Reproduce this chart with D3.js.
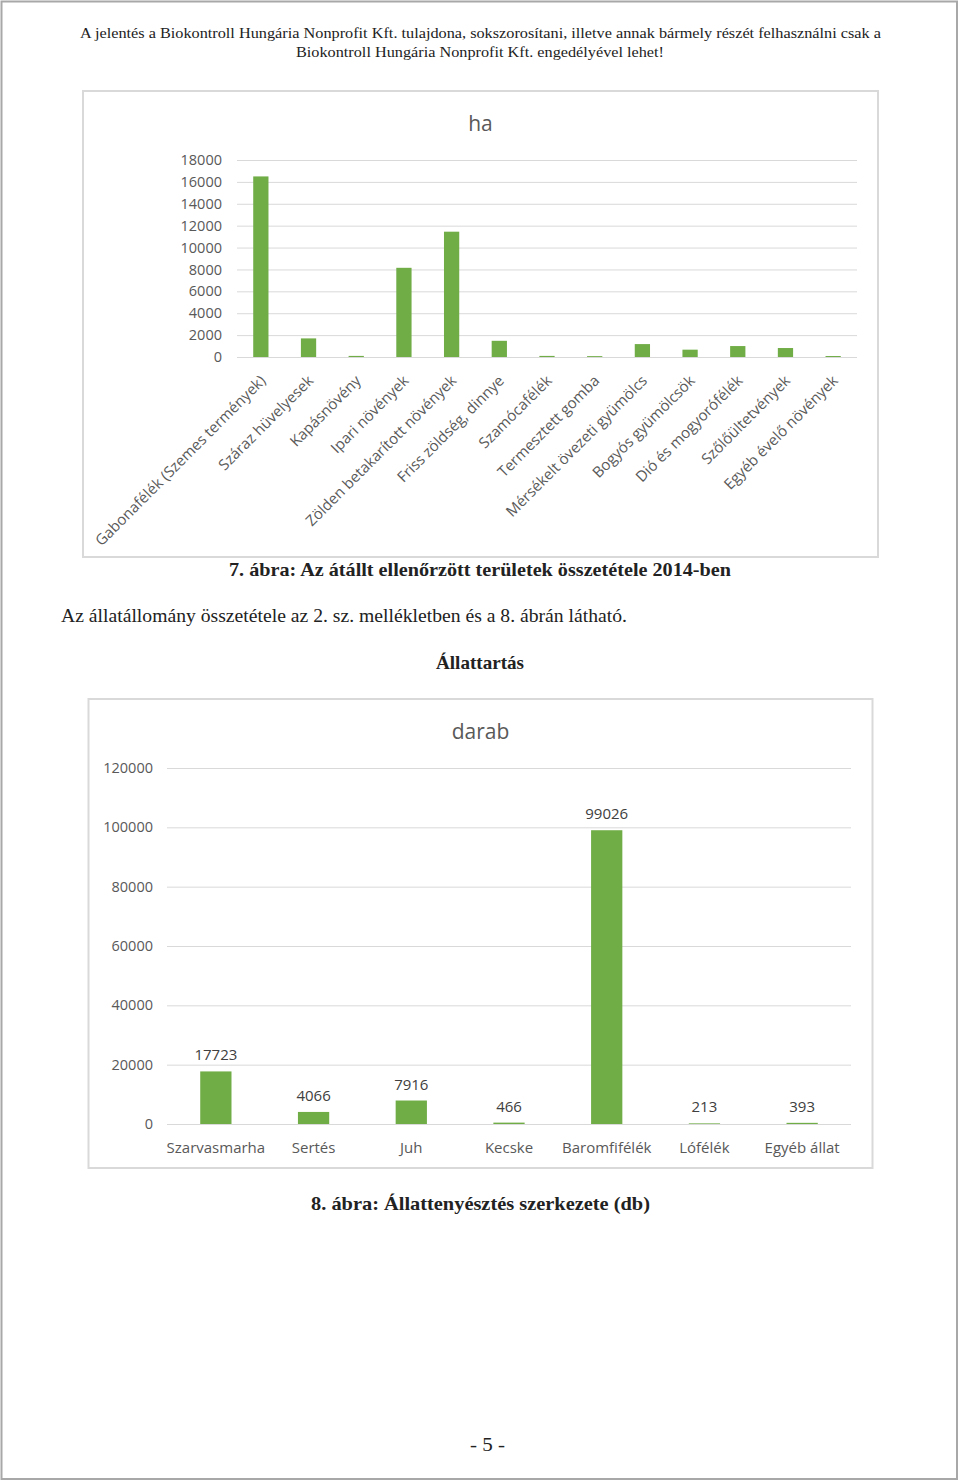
<!DOCTYPE html>
<html><head><meta charset="utf-8">
<script src="https://cdn.jsdelivr.net/npm/d3@7"></script>
<style>html,body{margin:0;padding:0;background:#fff;}svg{display:block;}</style>
</head><body>
<script>
// ---- Data ----
const cropCategories = ["Gabonafélék (Szemes termények)","Száraz hüvelyesek","Kapásnövény","Ipari növények","Zölden betakarított növények","Friss zöldség, dinnye","Szamócafélék","Termesztett gomba","Mérsékelt övezeti gyümölcs","Bogyós gyümölcsök","Dió és mogyorófélék","Szőlőültetvények","Egyéb évelő növények"];
const cropValues = [16500, 1700, 100, 8150, 11450, 1480, 100, 80, 1180, 670, 1000, 820, 90];
const cropTicks = [0,2000,4000,6000,8000,10000,12000,14000,16000,18000];

const animalCategories = ["Szarvasmarha","Sertés","Juh","Kecske","Baromfifélék","Lófélék","Egyéb állat"];
const animalValues = [17723, 4066, 7916, 466, 99026, 213, 393];
const animalTicks = [0,20000,40000,60000,80000,100000,120000];

const W = 960, H = 1483;
const svg = d3.select("body").append("svg").attr("width", W).attr("height", H);
const serif = "'Liberation Serif', 'DejaVu Serif', serif";
const sans = "'Open Sans', 'Noto Sans', sans-serif";
const green = "#70ad47", grid = "#d9d9d9", axisText = "#595959";

// page border
svg.append("rect").attr("x", 1.5).attr("y", 1.5).attr("width", 955.5).attr("height", 1477.5)
  .attr("fill", "#fff").attr("stroke", "#a8a8a8").attr("stroke-width", 2);

function serifText(txt, cx, y, len, size, weight, anchor) {
  const t = svg.append("text").attr("x", cx).attr("y", y).text(txt)
    .attr("font-family", serif).attr("font-size", size).attr("font-weight", weight || "normal")
    .attr("fill", "#222").attr("text-anchor", anchor || "middle");
  if (len) t.attr("textLength", len).attr("lengthAdjust", "spacingAndGlyphs");
  return t;
}
serifText("A jelentés a Biokontroll Hungária Nonprofit Kft. tulajdona, sokszorosítani, illetve annak bármely részét felhasználni csak a", 480.5, 38, 801, 15.5);
serifText("Biokontroll Hungária Nonprofit Kft. engedélyével lehet!", 480, 57, 368, 15.5);
serifText("7. ábra: Az átállt ellenőrzött területek összetétele 2014-ben", 480, 576, 502, 19, "bold");
serifText("Az állatállomány összetétele az 2. sz. mellékletben és a 8. ábrán látható.", 61, 622, 566, 19, "normal", "start");
serifText("Állattartás", 480, 669, 88, 19, "bold");
serifText("8. ábra: Állattenyésztés szerkezete (db)", 480.5, 1210, 339, 19, "bold");
serifText("- 5 -", 487.5, 1451, 35, 19);

// ---- Chart 1 ----
(function(){
  const frame = {x:83, y:91, w:795, h:466};
  svg.append("rect").attr("x", frame.x).attr("y", frame.y).attr("width", frame.w).attr("height", frame.h)
    .attr("fill", "#fff").attr("stroke", grid).attr("stroke-width", 2);
  const x = d3.scaleBand().domain(cropCategories).range([237, 857]).paddingInner(0.68).paddingOuter(0.34);
  const y = d3.scaleLinear().domain([0, 18000]).range([357, 160]);
  const g = svg.append("g");
  g.append("g").attr("transform", "translate(237,0)")
    .call(d3.axisLeft(y).tickValues(cropTicks).tickSize(-620).tickFormat(d3.format("d")))
    .call(a => a.select(".domain").remove())
    .call(a => a.selectAll("line").attr("stroke", grid).attr("stroke-width", 1))
    .call(a => a.selectAll("text").attr("x", -15).attr("fill", axisText)
      .attr("font-family", sans).attr("font-size", 14.5));
  g.selectAll("rect.bar").data(cropValues).join("rect").attr("class", "bar")
    .attr("x", (d,i) => x(cropCategories[i])).attr("width", x.bandwidth())
    .attr("y", d => y(d)).attr("height", d => y(0) - y(d)).attr("fill", green);
  g.append("g").attr("transform", "translate(0,357)")
    .call(d3.axisBottom(x).tickSize(0).tickPadding(0))
    .call(a => a.select(".domain").remove())
    .call(a => a.selectAll("text")
      .attr("font-family", sans).attr("font-size", 15).attr("fill", axisText)
      .attr("text-anchor", "end").attr("dy", "0.35em")
      .attr("transform", "translate(2,21) rotate(-45)"));
  svg.append("text").attr("x", 480.5).attr("y", 131).attr("text-anchor", "middle")
    .attr("font-family", sans).attr("font-size", 21).attr("fill", axisText).text("ha");
})();

// ---- Chart 2 ----
(function(){
  const frame = {x:88.5, y:699, w:784, h:469};
  svg.append("rect").attr("x", frame.x).attr("y", frame.y).attr("width", frame.w).attr("height", frame.h)
    .attr("fill", "#fff").attr("stroke", grid).attr("stroke-width", 2);
  const x = d3.scaleBand().domain(animalCategories).range([167, 851]).paddingInner(0.68).paddingOuter(0.34);
  const y = d3.scaleLinear().domain([0, 120000]).range([1124, 768]);
  const g = svg.append("g");
  g.append("g").attr("transform", "translate(167,0)")
    .call(d3.axisLeft(y).tickValues(animalTicks).tickSize(-684).tickFormat(d3.format("d")))
    .call(a => a.select(".domain").remove())
    .call(a => a.selectAll("line").attr("stroke", grid).attr("stroke-width", 1))
    .call(a => a.selectAll("text").attr("x", -14).attr("fill", axisText)
      .attr("font-family", sans).attr("font-size", 14.5));
  g.selectAll("rect.bar").data(animalValues).join("rect").attr("class", "bar")
    .attr("x", (d,i) => x(animalCategories[i])).attr("width", x.bandwidth())
    .attr("y", d => y(d)).attr("height", d => y(0) - y(d)).attr("fill", green);
  g.selectAll("text.val").data(animalValues).join("text").attr("class", "val")
    .attr("x", (d,i) => x(animalCategories[i]) + x.bandwidth()/2)
    .attr("y", d => Math.min(y(d) - 11, 1112))
    .attr("text-anchor", "middle").attr("font-family", sans).attr("font-size", 15)
    .attr("fill", "#404040").text(d => d);
  g.append("g").attr("transform", "translate(0,1124)")
    .call(d3.axisBottom(x).tickSize(0).tickPadding(0))
    .call(a => a.select(".domain").remove())
    .call(a => a.selectAll("text").attr("y", 29).attr("dy", 0)
      .attr("font-family", sans).attr("font-size", 15).attr("fill", axisText));
  svg.append("text").attr("x", 480.5).attr("y", 739).attr("text-anchor", "middle")
    .attr("font-family", sans).attr("font-size", 21).attr("fill", axisText).text("darab");
})();
</script>
</body></html>
